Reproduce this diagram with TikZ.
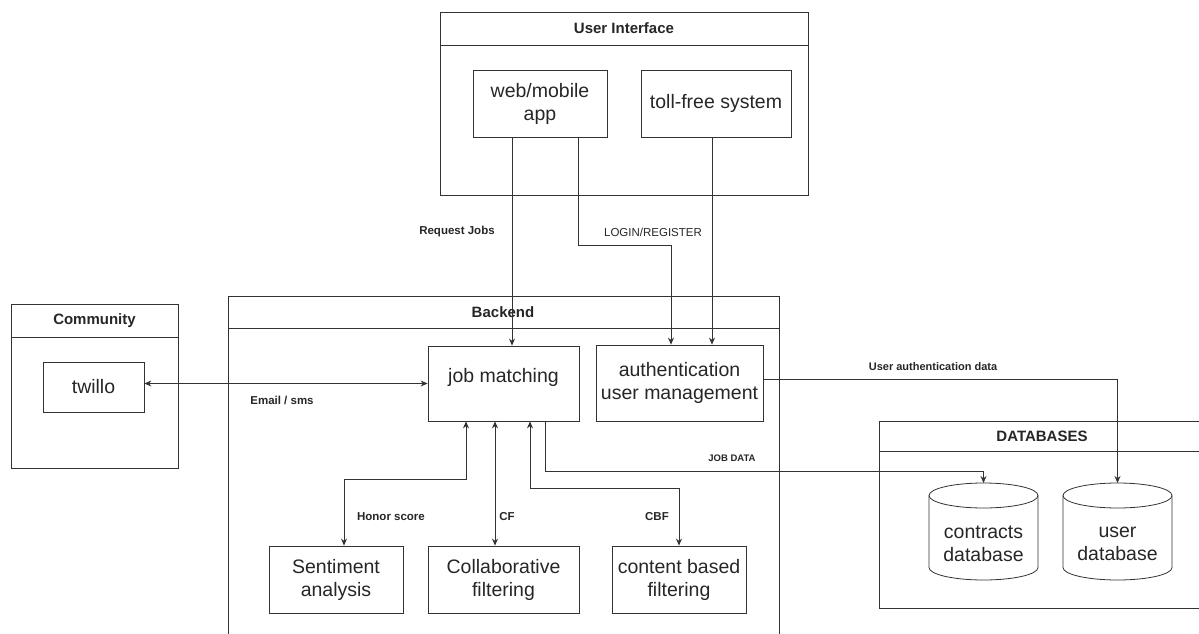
\documentclass[tikz,border=0pt]{standalone}
\usepackage{fontspec}
\setmainfont{Liberation Sans}
\usetikzlibrary{arrows.meta}
\tikzstyle{box} = [draw=black!80,line width=0.8pt,align=center,text=black!85,inner sep=0pt,font=\fontsize{19.5}{23}\selectfont]
\tikzstyle{frame} = [draw=black!80,line width=0.8pt,anchor=north west,inner sep=0pt]
\tikzstyle{sep} = [draw=black!80,line width=0.8pt]
\tikzstyle{head} = [text=black!85,font=\fontsize{15}{18}\selectfont\bfseries]
\tikzstyle{lbl} = [text=black!85,font=\fontsize{11.5}{14}\selectfont\bfseries]
\tikzstyle{arrow} = [draw=black!80,line width=0.8pt,-{Stealth[length=7pt,width=6pt]}]
\tikzstyle{twoway} = [draw=black!80,line width=0.8pt,{Stealth[length=7pt,width=6pt]}-{Stealth[length=7pt,width=6pt]}]

\begin{document}
\begin{tikzpicture}[x=1pt,y=-1pt]
\useasboundingbox (0,0) rectangle (1199,634);

\node[frame,minimum width=368,minimum height=183] (ui) at (440,12) {};
\draw[sep] ([yshift=-33pt]ui.north west) -- ([yshift=-33pt]ui.north east);
\node[head] (uihead) at (624,28.5) {User Interface};

\node[frame,minimum width=551,minimum height=360] (backend) at (228,296) {};
\draw[sep] ([yshift=-32pt]backend.north west) -- ([yshift=-32pt]backend.north east);
\node[head] (backendhead) at (503,312) {Backend};

\node[frame,minimum width=167,minimum height=164] (community) at (11,304) {};
\draw[sep] ([yshift=-33pt]community.north west) -- ([yshift=-33pt]community.north east);
\node[head] (communityhead) at (94.5,320.5) {Community};

\node[frame,minimum width=340,minimum height=187] (databases) at (879,421) {};
\draw[sep] ([yshift=-30pt]databases.north west) -- ([yshift=-30pt]databases.north east);
\node[head] (databaseshead) at (1042,436) {DATABASES};

\node[box,minimum width=134,minimum height=67] (web) at (540,103.5) {web/mobile\\app};
\node[box,minimum width=150,minimum height=67] (toll) at (716,103.5) {toll-free system};
\node[box,minimum width=101,minimum height=50] (twillo) at (93.5,387) {twillo};
\node[box,minimum width=151,minimum height=75,text depth=16pt] (jobm) at (503.5,383.5) {job matching};
\node[box,minimum width=167,minimum height=76] (auth) at (679.5,383) {authentication\\user management};
\node[box,minimum width=134,minimum height=67] (sent) at (336,579.5) {Sentiment\\analysis};
\node[box,minimum width=151,minimum height=67] (collab) at (503.5,579.5) {Collaborative\\filtering};
\node[box,minimum width=134,minimum height=67] (cbf) at (679,579.5) {content based\\filtering};

\foreach \n/\x/\t in {cdb/983.5/contracts,udb/1117.5/user}
{
 \coordinate (\n) at (\x,483);
 \draw[sep] (\x-54.5,495.5) -- (\x-54.5,567.5) arc[start angle=180,end angle=0,x radius=54.5,y radius=12.5] -- (\x+54.5,495.5);
 \draw[sep] (\x,495.5) ellipse [x radius=54.5,y radius=12.5];
 \node[box,draw=none] (\n text) at (\x,544) {\t\\database};
}

\draw[arrow] ([xshift=-28pt]web.south) -- ([xshift=-28pt]web.south |- jobm.north);
\draw[arrow] ([xshift=38pt]web.south) -- ++(0,108) -| ([xshift=-8.5pt]auth.north);
\draw[arrow] ([xshift=-4pt]toll.south) -- ([xshift=-4pt]toll.south |- auth.north);
\draw[twoway] (twillo.east |- jobm.west) -- (jobm.west);
\draw[arrow] ([yshift=4pt]auth.east) -| (udb);
\draw[arrow] ([xshift=41.5pt]jobm.south) -- ++(0,50) -| (cdb);
\draw[twoway] ([xshift=-37.5pt]jobm.south) -- ++(0,58) -| ([xshift=8pt]sent.north);
\draw[twoway] ([xshift=-8.5pt]jobm.south) -- ([xshift=-8.5pt]collab.north);
\draw[twoway] ([xshift=26.5pt]jobm.south) -- ++(0,67) -| (cbf.north);

\node[lbl] (reqlbl) at (457,232) {Request Jobs};
\node[lbl,font=\fontsize{11.5}{14}\selectfont] (loglbl) at (653,232) {LOGIN/REGISTER};
\node[lbl] (maillbl) at (282,400) {Email / sms};
\node[lbl,font=\fontsize{11}{14}\selectfont\bfseries] (authlbl) at (933,367) {User authentication data};
\node[lbl,font=\fontsize{9.5}{12}\selectfont\bfseries] (joblbl) at (732,458) {JOB DATA};
\node[lbl] (honorlbl) at (391,517) {Honor score};
\node[lbl] (cflbl) at (507,517) {CF};
\node[lbl] (cbflbl) at (657,517) {CBF};

\end{tikzpicture}
\end{document}
